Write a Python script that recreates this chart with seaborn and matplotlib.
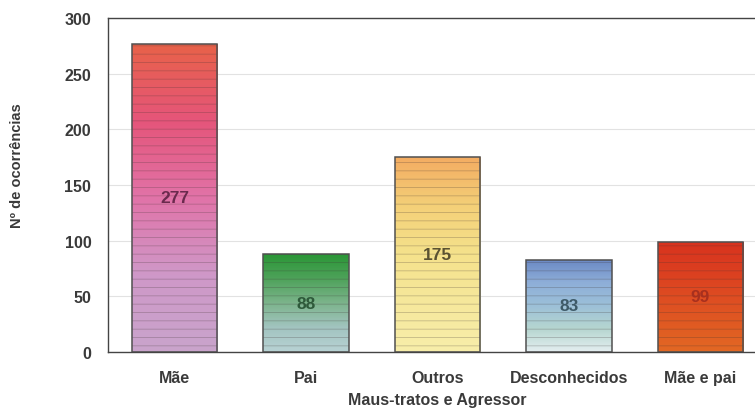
import numpy as np
import pandas as pd
import matplotlib.pyplot as plt
from matplotlib.colors import LinearSegmentedColormap
from matplotlib.patches import Rectangle
import seaborn as sns

categories = ['Mãe', 'Pai', 'Outros', 'Desconhecidos', 'Mãe e pai']
values = [277, 88, 175, 83, 99]
# gradient colours, top -> bottom
gradients = [
    ['#e86248', '#e5557a', '#e173a8', '#cf98c8', '#c9a4cc'],
    ['#2a9636', '#4ea25a', '#7cb48c', '#a2c4c0', '#b8d2d4'],
    ['#f3ac62', '#f4d078', '#f5e28c', '#f6e89c', '#f8eeaa'],
    ['#6a88c4', '#8eaed8', '#9cc0d8', '#b6d6d0', '#e4eef0'],
    ['#d8321e', '#db3e20', '#de4c22', '#e05a22', '#e26824'],
]
label_colors = ['#6b2a4e', '#2e5a3a', '#5a5232', '#3e5a68', '#a8301e']

sns.set_theme(style='white')
plt.rcParams['font.family'] = ['Liberation Sans', 'DejaVu Sans']
plt.rcParams['hatch.linewidth'] = 0.6

df = pd.DataFrame({'Agressor': categories, 'Ocorrencias': values})

fig = plt.figure(figsize=(7.55, 4.1), dpi=100)
ax = fig.add_axes([108 / 755, 57 / 410, 658 / 755, 334 / 410])

sns.barplot(data=df, x='Agressor', y='Ocorrencias', ax=ax, width=0.65,
            fill=False, edgecolor=(0.25, 0.2, 0.2, 0.28), hatch='--',
            linewidth=0, zorder=3)

for bar, cols, tc, v in zip(ax.patches, gradients, label_colors, values):
    x0, y0 = bar.get_x(), bar.get_y()
    w, h = bar.get_width(), bar.get_height()
    cmap = LinearSegmentedColormap.from_list('g', cols)
    grad = np.linspace(0, 1, 256).reshape(-1, 1)
    im = ax.imshow(grad, cmap=cmap, aspect='auto', extent=(x0, x0 + w, y0, y0 + h),
                   origin='upper', zorder=2)
    im.set_clip_path(bar)
    ax.add_patch(Rectangle((x0, y0), w, h, fill=False, edgecolor='#505050',
                           linewidth=1.1, zorder=4))
    ax.text(x0 + w / 2, v / 2, f'{v}', ha='center', va='center', fontsize=12.5,
            fontweight='bold', color=tc, zorder=5)

ax.set_xlim(-0.507, 4.5)
ax.set_ylim(0, 300)
ax.set_yticks(range(0, 301, 50))
ax.yaxis.grid(True, color='#e2e2e2', linewidth=0.8, zorder=0)
ax.set_axisbelow(True)
for side in ['left', 'top', 'bottom']:
    ax.spines[side].set_color('#444444')
    ax.spines[side].set_linewidth(1.0)
ax.spines['right'].set_visible(False)
ax.tick_params(axis='both', length=0, labelsize=11.5, labelcolor='#3a3a3a')
ax.tick_params(axis='x', pad=13)
ax.tick_params(axis='y', pad=12)
for lab in ax.get_xticklabels() + ax.get_yticklabels():
    lab.set_fontweight('bold')
ax.set_xlabel('Maus-tratos e Agressor', fontsize=11.5, fontweight='bold', color='#3a3a3a', labelpad=5)
ax.set_ylabel('Nº de ocorrências', fontsize=10.5, fontweight='bold', color='#3a3a3a')
ax.yaxis.set_label_coords(-0.127, 0.56)

fig.savefig('out.png', dpi=100)
